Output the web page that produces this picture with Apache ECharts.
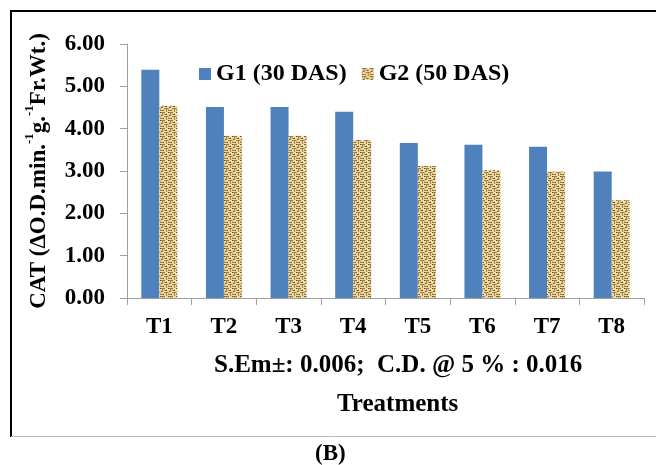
<!DOCTYPE html>
<html>
<head>
<meta charset="utf-8">
<script src="https://cdn.jsdelivr.net/npm/echarts@6/dist/echarts.min.js"></script>
<style>
  html, body { margin: 0; padding: 0; background: #fff; }
  #chart { width: 656px; height: 465px; }
</style>
</head>
<body>
<div id="chart"></div>
<script>
const categories = ["T1", "T2", "T3", "T4", "T5", "T6", "T7", "T8"];
const g1Values = [5.39, 4.51, 4.51, 4.40, 3.66, 3.62, 3.57, 2.99];
const g2Values = [4.54, 3.83, 3.83, 3.73, 3.12, 3.02, 2.99, 2.31];
const yTicks = [0, 1, 2, 3, 4, 5, 6];

const FONT = "'Liberation Serif', 'Times New Roman', serif";

// burlap / maze texture tile for G2
function makeTexture() {
  const c = document.createElement("canvas");
  c.width = 8;
  c.height = 8;
  const ctx = c.getContext("2d");
  ctx.fillStyle = "#EEDAA6";
  ctx.fillRect(0, 0, 8, 8);
  ctx.fillStyle = "#A07E40";
  ctx.fillRect(0, 0, 5, 1);
  ctx.fillRect(4, 4, 4, 1);
  ctx.fillRect(2, 1, 1, 3);
  ctx.fillRect(6, 5, 1, 3);
  ctx.fillRect(0, 6, 3, 1);
  ctx.fillStyle = "#6E4F1E";
  ctx.fillRect(1, 3, 1, 1);
  ctx.fillRect(5, 2, 2, 1);
  ctx.fillRect(3, 6, 1, 1);
  ctx.fillRect(0, 0, 1, 1);
  ctx.fillStyle = "#C9AD6C";
  ctx.fillRect(4, 1, 1, 2);
  ctx.fillRect(0, 4, 1, 2);
  return c;
}
const texture = makeTexture();

const chart = echarts.init(document.getElementById("chart"));
chart.setOption({
  animation: false,
  textStyle: { fontFamily: FONT },
  color: ["#4F81BD", { image: texture, repeat: "repeat" }],
  legend: {
    top: 57,
    left: 194,
    itemWidth: 12,
    itemHeight: 12,
    itemGap: 15,
    icon: "rect",
    textStyle: { fontFamily: FONT, fontWeight: "bold", fontSize: 24, color: "#000" },
  },
  grid: { left: 127, right: 12, top: 44, bottom: 167 },
  xAxis: {
    type: "category",
    data: categories,
    axisLine: { lineStyle: { color: "#A0A0A0" } },
    axisTick: { show: true, length: 7, lineStyle: { color: "#A0A0A0" } },
    axisLabel: { margin: 18, fontFamily: FONT, fontWeight: "bold", fontSize: 23, color: "#000" },
  },
  yAxis: {
    type: "value",
    min: yTicks[0],
    max: yTicks[yTicks.length - 1],
    interval: 1,
    axisLine: { show: true, lineStyle: { color: "#A0A0A0" } },
    axisTick: { show: true, length: 7, lineStyle: { color: "#A0A0A0" } },
    splitLine: { show: false },
    axisLabel: {
      margin: 22,
      fontFamily: FONT,
      fontWeight: "bold",
      fontSize: 23,
      color: "#000",
      formatter: (v) => v.toFixed(2),
    },
    name: "{b|CAT (ΔO.D.min.}{s|-1}{b|g.}{s|-1}{b|Fr.Wt.)}",
    nameLocation: "middle",
    nameGap: 76,
    nameRotate: 90,
    nameTextStyle: {
      rich: {
        b: { fontFamily: FONT, fontWeight: "bold", fontSize: 23, color: "#000", lineHeight: 28, verticalAlign: "bottom" },
        s: { fontFamily: FONT, fontWeight: "bold", fontSize: 13, color: "#000", lineHeight: 28, verticalAlign: "top" },
      },
    },
  },
  series: [
    {
      name: "G1 (30 DAS)",
      type: "bar",
      data: g1Values,
      barWidth: 18,
      barGap: "0%",
    },
    {
      name: "G2 (50 DAS)",
      type: "bar",
      data: g2Values,
      barWidth: 18,
      barGap: "0%",
    },
  ],
  graphic: [
    { type: "line", shape: { x1: 10, y1: 11, x2: 656, y2: 11 }, style: { stroke: "#000", lineWidth: 2 } },
    { type: "line", shape: { x1: 11, y1: 10, x2: 11, y2: 437 }, style: { stroke: "#000", lineWidth: 2 } },
    { type: "line", shape: { x1: 11, y1: 436.5, x2: 656, y2: 436.5 }, style: { stroke: "#BBBBBB", lineWidth: 1 } },
    {
      type: "text",
      left: 214,
      top: 353,
      style: { text: "S.Em±: 0.006;  C.D. @ 5 % : 0.016", font: "bold 25px " + FONT, fill: "#000" },
    },
    {
      type: "text",
      left: 337,
      top: 392,
      style: { text: "Treatments", font: "bold 25px " + FONT, fill: "#000" },
    },
    {
      type: "text",
      left: 315,
      top: 443,
      style: { text: "(B)", font: "bold 23px " + FONT, fill: "#000" },
    },
  ],
});
</script>
</body>
</html>
